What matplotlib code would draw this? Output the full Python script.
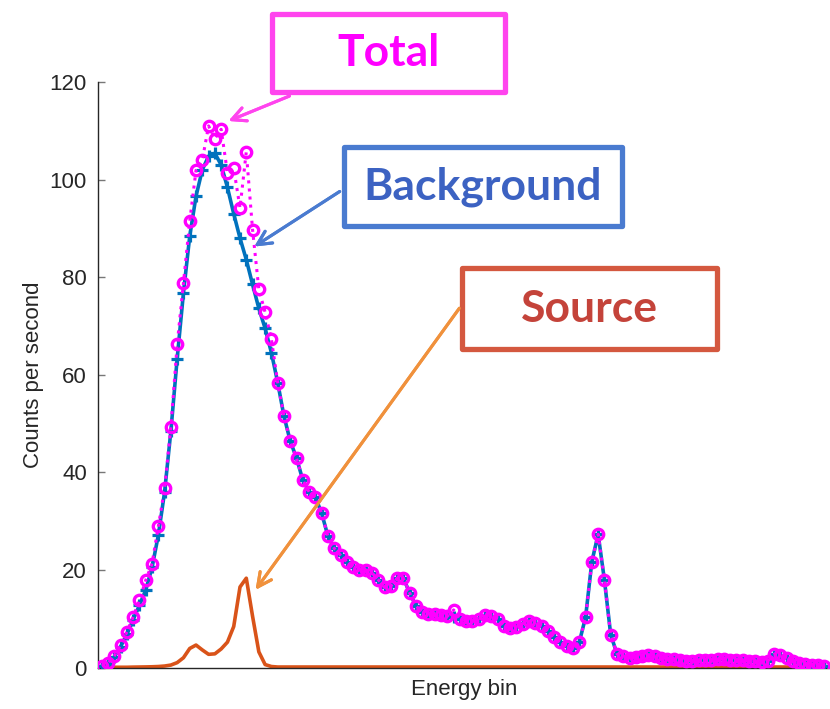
import numpy as np
import matplotlib.pyplot as plt
from matplotlib.patches import Rectangle

# counts per second in each energy bin
background = [0.3, 0.8, 2.2, 4.3, 6.8, 9.8, 12.8, 15.9, 20.5, 27.1,
              36.0, 48.5, 63.3, 76.8, 88.4, 96.6, 102.0, 104.8, 105.4, 103.0,
              98.4, 93.0, 88.0, 83.6, 78.5, 73.6, 69.5, 64.5, 58.4, 51.5,
              46.4, 42.9, 38.4, 36.0, 34.9, 31.6, 26.9, 24.4, 23.0, 21.7,
              20.7, 20.0, 20.0, 19.4, 18.0, 16.4, 16.7, 18.3, 18.3, 15.3,
              12.6, 11.4, 11.0, 11.0, 10.8, 10.5, 10.3, 9.9, 9.6, 9.5,
              10.0, 10.7, 10.6, 10.0, 8.6, 8.0, 8.4, 9.0, 9.5, 9.2,
              8.5, 7.5, 6.3, 5.2, 4.4, 4.0, 5.2, 10.3, 21.7, 27.3,
              17.9, 6.7, 2.8, 2.3, 2.0, 2.1, 2.4, 2.6, 2.3, 2.0,
              1.8, 1.7, 1.5, 1.4, 1.4, 1.5, 1.6, 1.6, 1.7, 1.7,
              1.6, 1.5, 1.5, 1.4, 1.3, 1.2, 1.3, 2.7, 2.5, 2.0,
              1.4, 1.0, 0.8, 0.6, 0.5, 0.4]

source = [0.05, 0.05, 0.05, 0.05, 0.05, 0.08, 0.1, 0.12, 0.15, 0.2,
          0.3, 0.5, 1.0, 2.0, 3.9, 4.6, 3.6, 2.7, 2.8, 3.8,
          5.2, 8.4, 16.5, 18.3, 10.5, 3.2, 0.6, 0.2] + [0.1] * 88

total = [0.3, 0.9, 2.4, 4.6, 7.3, 10.4, 13.8, 17.9, 21.3, 28.9,
         36.7, 49.3, 66.2, 78.8, 91.5, 101.9, 104.0, 111.0, 108.4, 110.3,
         101.4, 102.3, 94.2, 105.7, 89.7, 77.5, 72.8, 67.3, 58.4, 51.5,
         46.4, 42.9, 38.4, 36.0, 34.9, 31.6, 26.9, 24.4, 23.0, 21.7,
         20.7, 20.0, 20.0, 19.4, 18.0, 16.4, 16.7, 18.3, 18.3, 15.3,
         12.6, 11.4, 11.0, 11.0, 10.8, 10.5, 11.8, 9.9, 9.6, 9.5,
         10.0, 10.7, 10.6, 10.0, 8.6, 8.0, 8.4, 9.0, 9.5, 9.2,
         8.5, 7.5, 6.3, 5.2, 4.4, 4.0, 5.2, 10.3, 21.7, 27.3,
         17.9, 6.7, 2.8, 2.3, 2.0, 2.1, 2.4, 2.6, 2.3, 2.0,
         1.8, 1.7, 1.5, 1.4, 1.4, 1.5, 1.6, 1.6, 1.7, 1.7,
         1.6, 1.5, 1.5, 1.4, 1.3, 1.2, 1.3, 2.7, 2.5, 2.0,
         1.4, 1.0, 0.8, 0.6, 0.5, 0.4]

y_ticks = [0, 20, 40, 60, 80, 100, 120]

W, H = 830, 709


def fx(x):
    return x / W


def fy(y):
    return 1 - y / H


def callout(fig, box, text, edge, color, tail, tip, arrow_color):
    x0, y0, x1, y1 = box
    fig.add_artist(Rectangle((fx(x0), fy(y1)), fx(x1 - x0), (y1 - y0) / H,
                             transform=fig.transFigure, fill=False,
                             edgecolor=edge, linewidth=3.8, joinstyle='round'))
    fig.text(fx((x0 + x1) / 2), fy((y0 + y1) / 2), text, ha='center',
             va='center', color=color, fontsize=32, fontweight='bold',
             family='Lato')
    fig.add_artist(plt.annotate('', xy=(fx(tip[0]), fy(tip[1])),
                                xytext=(fx(tail[0]), fy(tail[1])),
                                xycoords='figure fraction',
                                textcoords='figure fraction',
                                arrowprops=dict(arrowstyle='->,head_length=1.0,head_width=0.5',
                                                color=arrow_color, lw=2.2)))


def main():
    plt.rcParams['font.family'] = ['Liberation Sans', 'DejaVu Sans']
    fig = plt.figure(figsize=(8.3, 7.09), dpi=100)
    ax = fig.add_axes([fx(98), fy(667.5), fx(830 - 98), (667.5 - 82) / H])

    x = np.arange(len(background))
    ax.plot(x, source, color='#D95319', lw=2.6, zorder=2)
    ax.plot(x, background, color='#0072BD', lw=2.6, marker='+', ms=9,
            mew=2.3, zorder=3)
    ax.plot(x, total, color='#FF00FF', lw=2.2, ls=':', marker='o', ms=7.5,
            mew=2.4, mfc='none', zorder=4)

    ax.set_xlim(-0.6, 115.9)
    ax.set_ylim(0, 120)
    ax.set_yticks(y_ticks)
    ax.set_xticks([])
    ax.tick_params(axis='y', direction='in', length=5, width=1,
                   color='#777777', labelsize=16, labelcolor='#262626', pad=8)
    for side in ['top', 'right']:
        ax.spines[side].set_visible(False)
    for side in ['left', 'bottom']:
        ax.spines[side].set_color('#262626')
        ax.spines[side].set_linewidth(1.0)
    ax.set_ylabel('Counts per second', fontsize=16, color='#262626', labelpad=4)
    ax.set_xlabel('Energy bin', fontsize=16, color='#262626', labelpad=8)

    callout(fig, (272, 14, 505, 92), 'Total', '#FF44EE', '#FF00FF',
            (292, 95), (226, 122), '#FF44EE')
    callout(fig, (344, 147, 622, 226), 'Background', '#4A7BD0', '#3C62C2',
            (342, 190), (252, 248), '#4A7BD0')
    callout(fig, (462, 268, 717, 349), 'Source', '#D4583F', '#C4433A',
            (461, 306), (254, 592), '#F0913C')

    fig.savefig('out.png', dpi=100)


if __name__ == '__main__':
    main()
